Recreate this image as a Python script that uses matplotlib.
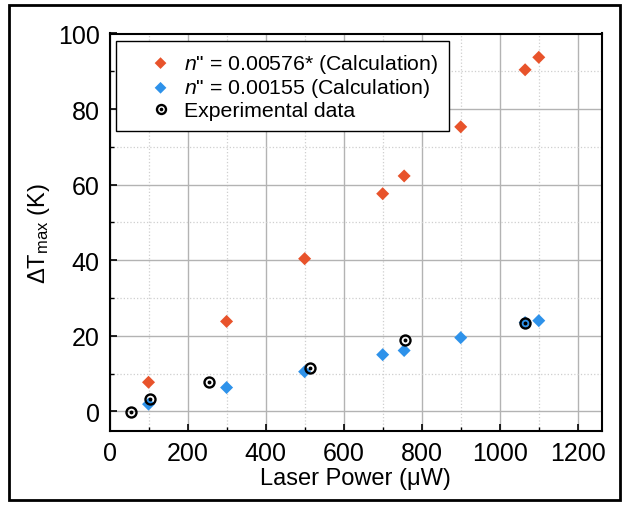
import matplotlib
matplotlib.use("Agg")
import matplotlib.pyplot as plt
from matplotlib.ticker import MultipleLocator
from matplotlib.patches import Rectangle

plt.rcParams['font.family'] = ['Liberation Sans', 'DejaVu Sans']
plt.rcParams['mathtext.fontset'] = 'custom'
plt.rcParams['mathtext.rm'] = 'Liberation Sans'
plt.rcParams['mathtext.it'] = 'Liberation Sans:italic'

# Calculated peak temperature rise, n'' = 0.00576*
calc_hi_power = [100, 300, 500, 700, 755, 900, 1065, 1100]
calc_hi_dT = [7.7, 23.8, 40.4, 57.6, 62.3, 75.3, 90.4, 93.7]

# Calculated peak temperature rise, n'' = 0.00155
calc_lo_power = [100, 300, 500, 700, 755, 900, 1065, 1100]
calc_lo_dT = [1.9, 6.3, 10.5, 15.0, 16.1, 19.5, 23.5, 24.0]

# Measured temperature rise
exp_power = [56, 105, 255, 514, 757, 1065]
exp_dT = [-0.1, 3.4, 7.8, 11.6, 19.0, 23.5]

x_ticks = [0, 200, 400, 600, 800, 1000, 1200]
y_ticks = [0, 20, 40, 60, 80, 100]

red = '#E8532B'
blue = '#2E92EA'

fig = plt.figure(figsize=(6.26, 5.06), dpi=100)
ax = fig.add_axes([109.5 / 626, 1 - 432 / 506, (602 - 109.5) / 626, (432 - 34.5) / 506])

# Outer frame around the whole figure
fig.patches.append(Rectangle((9 / 626, 5 / 506), (620 - 9) / 626, (500 - 5) / 506,
                             transform=fig.transFigure, fill=False,
                             edgecolor='black', linewidth=2))

h1 = ax.scatter(calc_hi_power, calc_hi_dT, marker='D', s=44, color=red,
                edgecolors='none', zorder=3)
h2 = ax.scatter(calc_lo_power, calc_lo_dT, marker='D', s=44, color=blue,
                edgecolors='none', zorder=3)
ring, = ax.plot(exp_power, exp_dT, 'o', ms=7.2, mfc='none', mec='black', mew=1.7,
                ls='none', zorder=4)
dot, = ax.plot(exp_power, exp_dT, 'o', ms=1.8, color='black', ls='none', zorder=5)

ax.set_xlim(0, 1262)
ax.set_ylim(-5.2, 100)
ax.set_xticks(x_ticks)
ax.set_yticks(y_ticks)
ax.xaxis.set_minor_locator(MultipleLocator(100))
ax.yaxis.set_minor_locator(MultipleLocator(10))

ax.grid(True, which='major', color='#b3b3b3', linewidth=1.0, zorder=0)
ax.grid(True, which='minor', color='#cfcfcf', linewidth=0.9, linestyle=':', zorder=0)
ax.set_axisbelow(True)

ax.tick_params(which='major', direction='in', length=5, width=1.2, labelsize=18, pad=7)
ax.tick_params(which='minor', direction='in', length=3, width=1.0)
for s in ax.spines.values():
    s.set_linewidth(1.5)

ax.set_xlabel('Laser Power (\u03bcW)', fontsize=17, labelpad=2)
ax.set_ylabel(r'$\Delta$T$_{\rm max}$ (K)', fontsize=17, labelpad=4)

leg = ax.legend([h1, h2, (ring, dot)],
                [r'$n$" = 0.00576* (Calculation)',
                 r'$n$" = 0.00155 (Calculation)',
                 'Experimental data'],
                loc='upper left', bbox_to_anchor=(0.013, 0.981), borderaxespad=0,
                fontsize=15.3, frameon=True, fancybox=False, edgecolor='black',
                framealpha=1, handletextpad=-0.5, borderpad=0.5,
                labelspacing=0.08, handlelength=3.2, markerscale=0.9)
leg.get_frame().set_linewidth(1.0)

fig.savefig('out.png', dpi=100)
